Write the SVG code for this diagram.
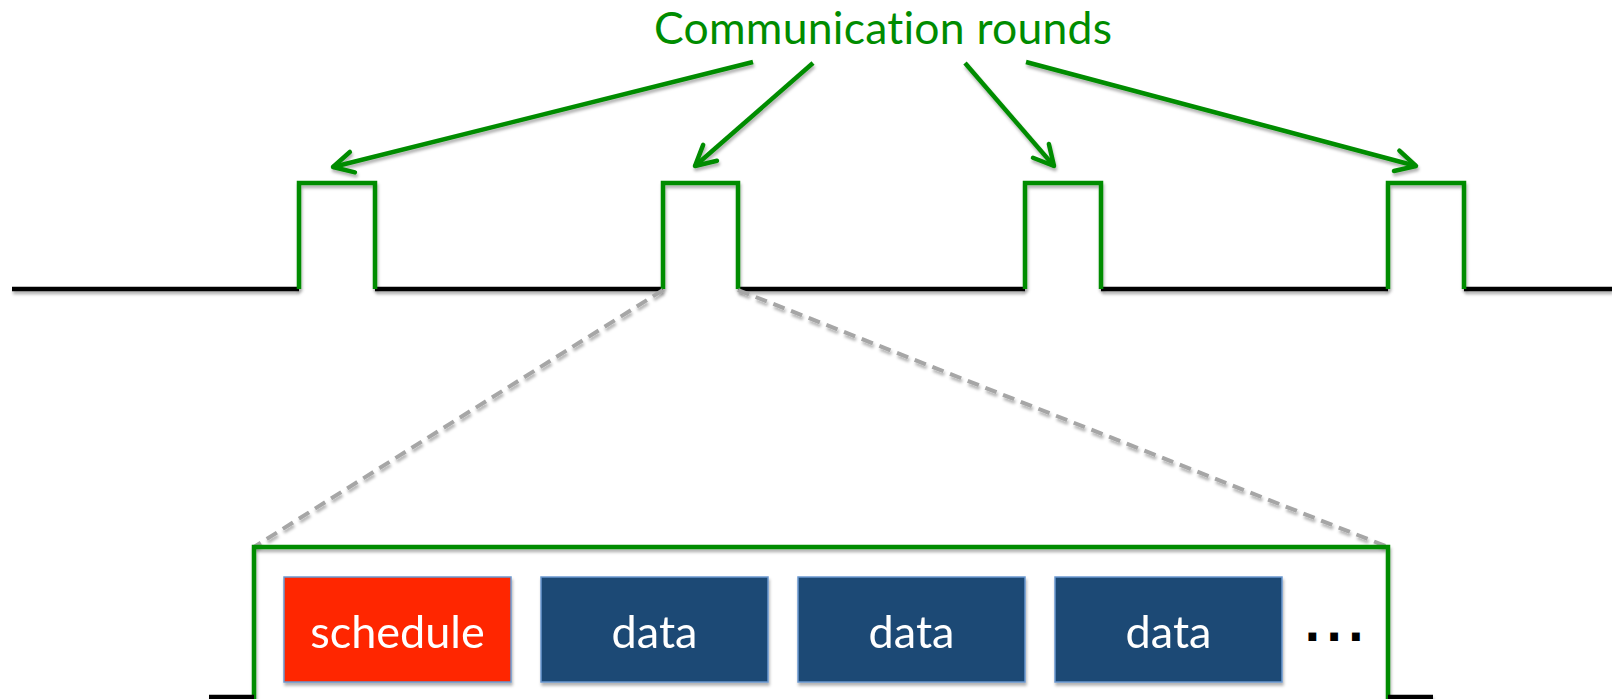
<svg xmlns="http://www.w3.org/2000/svg" width="1612" height="699" viewBox="0 0 1612 699">
  <defs>
    <style>
      .sig { fill: none; stroke: #008c00; stroke-width: 4.5; stroke-linejoin: miter; stroke-linecap: butt; }
      .base { fill: none; stroke: #000000; stroke-width: 4.5; stroke-linecap: butt; }
      .arrow { fill: none; stroke: #008c00; stroke-width: 4.5; stroke-linecap: butt; }
      .zoom { fill: none; stroke: #a6a6a6; stroke-width: 4; stroke-dasharray: 12 7; }
      .slot { stroke: #6b98cf; stroke-width: 1.5; }
      .slot-sched { fill: #ff2500; }
      .slot-data { fill: #1f4a74; }
      text { font-variant-ligatures: none; }
      .label { font-family: "Lato", "Open Sans", sans-serif; font-size: 45px; fill: #ffffff; text-anchor: middle; }
      .title { font-family: "Lato", "Open Sans", sans-serif; font-size: 44.5px; fill: #008c00; text-anchor: middle; }
      .dots { font-family: "DejaVu Sans", sans-serif; font-weight: bold; font-size: 44px; fill: #000000; }
    </style>
    <filter id="shadow" filterUnits="userSpaceOnUse" x="0" y="0" width="1612" height="699">
      <feDropShadow dx="1" dy="3" stdDeviation="1.6" flood-color="#000000" flood-opacity="0.3"/>
    </filter>
    <marker id="head" markerUnits="userSpaceOnUse" markerWidth="34" markerHeight="34" viewBox="-28 -17 34 34" refX="0" refY="0" orient="auto">
      <path d="M-20,-10.5 L0,0 L-20,10.5" fill="none" stroke="#008c00" stroke-width="4.5" stroke-linecap="round" stroke-linejoin="round"/>
    </marker>
  </defs>

  <rect width="1612" height="699" fill="#ffffff"/>

  <!-- idle timeline between the rounds -->
  <g id="timeline" filter="url(#shadow)">
    <path class="base" d="M12,289 H299 M375,289 H663 M738,289 H1025 M1101,289 H1388 M1464,289 H1612"/>
  </g>

  <!-- communication rounds on the timeline -->
  <g id="round1" filter="url(#shadow)"><path class="sig" d="M299,289 V183 H375 V289"/></g>
  <g id="round2" filter="url(#shadow)"><path class="sig" d="M663,289 V183 H738 V289"/></g>
  <g id="round3" filter="url(#shadow)"><path class="sig" d="M1025,289 V183 H1101 V289"/></g>
  <g id="round4" filter="url(#shadow)"><path class="sig" d="M1388,289 V183 H1464 V289"/></g>

  <!-- label -->
  <g id="title">
    <text class="title" x="883" y="44" textLength="458">Communication rounds</text>
  </g>

  <!-- arrows and zoom guides -->
  <g id="connectors">
    <g filter="url(#shadow)">
      <line class="arrow" x1="753" y1="62" x2="333" y2="167" marker-end="url(#head)"/>
      <line class="arrow" x1="813" y1="63" x2="695" y2="166" marker-end="url(#head)"/>
      <line class="arrow" x1="965" y1="63" x2="1054" y2="166" marker-end="url(#head)"/>
      <line class="arrow" x1="1026" y1="62" x2="1416" y2="166" marker-end="url(#head)"/>
    </g>
    <g filter="url(#shadow)">
      <line class="zoom" x1="663" y1="290" x2="254" y2="547"/>
      <line class="zoom" x1="738" y1="290" x2="1388" y2="547"/>
    </g>
  </g>

  <!-- expanded round -->
  <g id="round-detail" filter="url(#shadow)">
    <path class="sig" d="M254,699 V547 H1388 V699"/>
    <path class="base" d="M209,697 H254 M1388,697 H1433"/>
  </g>

  <!-- slots within the round -->
  <g id="slot-schedule" filter="url(#shadow)">
    <rect class="slot slot-sched" x="284" y="577" width="227" height="105"/>
    <text class="label" x="397.5" y="648">schedule</text>
  </g>
  <g id="slot-data1" filter="url(#shadow)">
    <rect class="slot slot-data" x="541" y="577" width="227" height="105"/>
    <text class="label" x="654.5" y="648">data</text>
  </g>
  <g id="slot-data2" filter="url(#shadow)">
    <rect class="slot slot-data" x="798" y="577" width="227" height="105"/>
    <text class="label" x="911.5" y="648">data</text>
  </g>
  <g id="slot-data3" filter="url(#shadow)">
    <rect class="slot slot-data" x="1055" y="577" width="227" height="105"/>
    <text class="label" x="1168.5" y="648">data</text>
  </g>
  <g id="more">
    <text class="dots" x="1304" y="641" letter-spacing="5">...</text>
  </g>
</svg>
